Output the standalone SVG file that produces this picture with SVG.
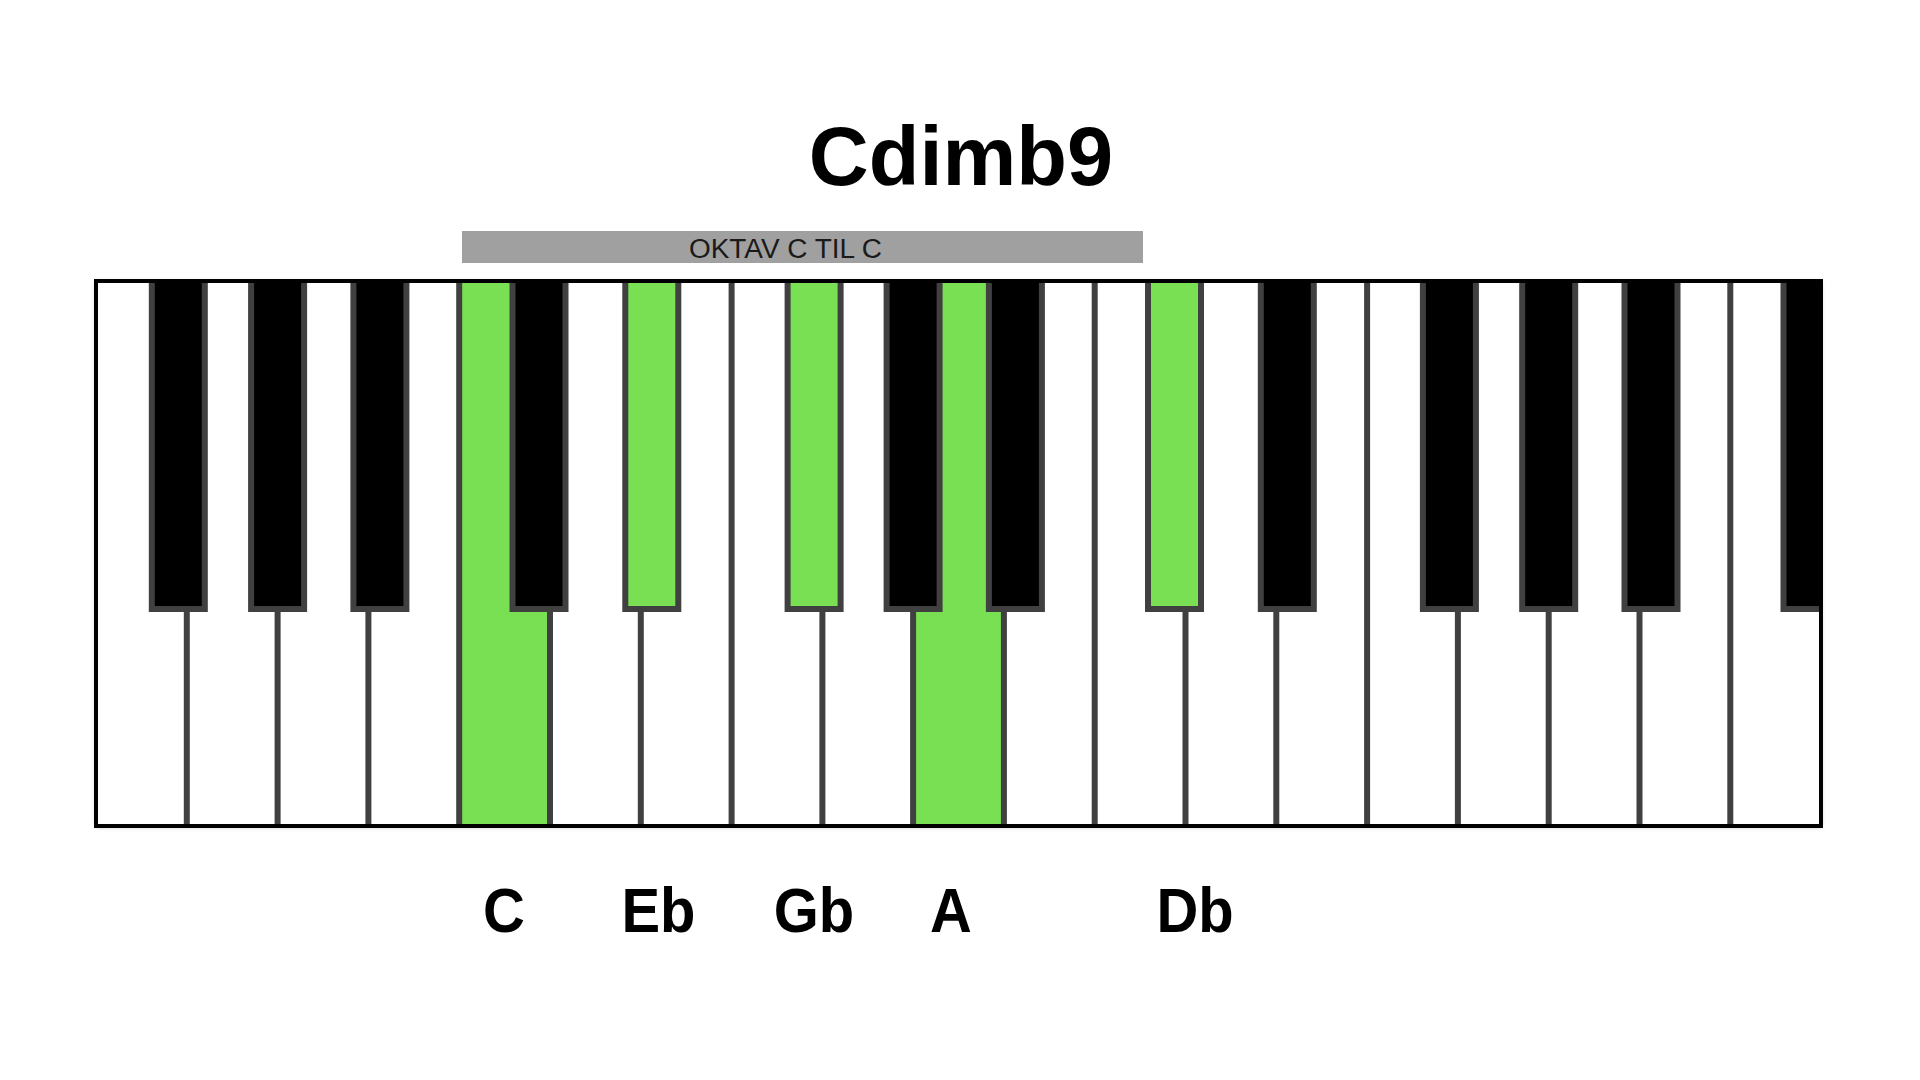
<svg xmlns="http://www.w3.org/2000/svg" width="1920" height="1080" viewBox="0 0 1920 1080">
<defs>
<style>
.white{fill:#ffffff}
.green{fill:#7ae053}
.div{stroke:#404040;stroke-width:6}
.bk{fill:#000000;stroke:#404040;stroke-width:6}
.bkg{fill:#7ae053;stroke:#404040;stroke-width:6}
.title{font-family:"Liberation Sans",Arial,sans-serif;font-weight:bold;font-size:83px;fill:#000}
.note{font-family:"Liberation Sans",Arial,sans-serif;font-weight:bold;font-size:63px;fill:#000;text-anchor:middle}
.bar{font-family:"Liberation Sans",Arial,sans-serif;font-size:27px;fill:#1a1a1a}
</style>
<clipPath id="kb"><rect x="96" y="281" width="1725" height="545"/></clipPath>
<filter id="sh" x="-5%" y="-5%" width="110%" height="110%"><feDropShadow dx="0" dy="1" stdDeviation="2" flood-color="#000" flood-opacity="0.35"/></filter>
</defs>
<rect width="1920" height="1080" fill="#ffffff"/>
<g id="title"><text class="title" x="961" y="185" text-anchor="middle">Cdimb9</text></g>
<g id="octave-bar">
<rect x="462" y="231" width="681" height="32" fill="#a0a0a0"/>
<text class="bar" x="689" y="258" textLength="193" lengthAdjust="spacingAndGlyphs">OKTAV C TIL C</text>
</g>
<g id="keyboard">
<rect x="96" y="281" width="1725" height="545" class="white" filter="url(#sh)"/>
<g clip-path="url(#kb)">
<rect id="key-C" x="459.2" y="281" width="90.8" height="545" class="green"/>
<rect id="key-A" x="913.1" y="281" width="90.8" height="545" class="green"/>
<g id="dividers">
<line class="div" x1="186.8" y1="281" x2="186.8" y2="826"/>
<line class="div" x1="277.6" y1="281" x2="277.6" y2="826"/>
<line class="div" x1="368.4" y1="281" x2="368.4" y2="826"/>
<line class="div" x1="459.2" y1="281" x2="459.2" y2="826"/>
<line class="div" x1="550" y1="281" x2="550" y2="826"/>
<line class="div" x1="640.8" y1="281" x2="640.8" y2="826"/>
<line class="div" x1="731.6" y1="281" x2="731.6" y2="826"/>
<line class="div" x1="822.4" y1="281" x2="822.4" y2="826"/>
<line class="div" x1="913.1" y1="281" x2="913.1" y2="826"/>
<line class="div" x1="1003.9" y1="281" x2="1003.9" y2="826"/>
<line class="div" x1="1094.7" y1="281" x2="1094.7" y2="826"/>
<line class="div" x1="1185.5" y1="281" x2="1185.5" y2="826"/>
<line class="div" x1="1276.3" y1="281" x2="1276.3" y2="826"/>
<line class="div" x1="1367.1" y1="281" x2="1367.1" y2="826"/>
<line class="div" x1="1457.9" y1="281" x2="1457.9" y2="826"/>
<line class="div" x1="1548.7" y1="281" x2="1548.7" y2="826"/>
<line class="div" x1="1639.5" y1="281" x2="1639.5" y2="826"/>
<line class="div" x1="1730.3" y1="281" x2="1730.3" y2="826"/>
</g>
<g id="black-keys">
<rect class="bk" x="151.8" y="278" width="53" height="331"/>
<rect class="bk" x="251.1" y="278" width="53" height="331"/>
<rect class="bk" x="353.4" y="278" width="53" height="331"/>
<rect class="bk" x="512.5" y="278" width="53" height="331"/>
<rect id="key-Eb" class="bkg" x="625.3" y="278" width="53" height="331"/>
<rect id="key-Gb" class="bkg" x="787.6" y="278" width="53" height="331"/>
<rect class="bk" x="886.6" y="278" width="53" height="331"/>
<rect class="bk" x="988.9" y="278" width="53" height="331"/>
<rect id="key-Db" class="bkg" x="1148" y="278" width="53" height="331"/>
<rect class="bk" x="1260.8" y="278" width="53" height="331"/>
<rect class="bk" x="1422.9" y="278" width="53" height="331"/>
<rect class="bk" x="1522.2" y="278" width="53" height="331"/>
<rect class="bk" x="1624.5" y="278" width="53" height="331"/>
<rect class="bk" x="1783.5" y="278" width="53" height="331"/>
</g>
</g>
<rect x="96" y="281" width="1725" height="545" fill="none" stroke="#000" stroke-width="4"/>
</g>
<g id="labels">
<text class="note" transform="translate(504 932) scale(0.92 1)">C</text>
<text class="note" transform="translate(658.5 932) scale(0.92 1)">Eb</text>
<text class="note" transform="translate(814 932) scale(0.92 1)">Gb</text>
<text class="note" transform="translate(951 932) scale(0.92 1)">A</text>
<text class="note" transform="translate(1195 932) scale(0.92 1)">Db</text>
</g>
</svg>
